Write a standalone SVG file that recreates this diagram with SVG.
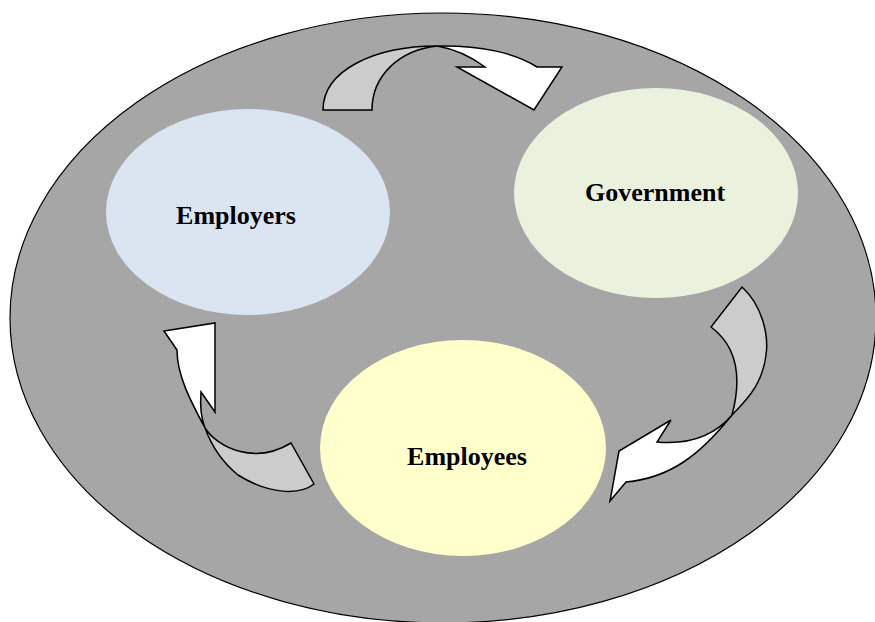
<svg xmlns="http://www.w3.org/2000/svg" width="875" height="622" viewBox="0 0 875 622">
<style>
.g{fill:#cccccc;stroke:#000;stroke-width:1.5;stroke-linejoin:miter}
.w{fill:#ffffff;stroke:#000;stroke-width:1.5;stroke-linejoin:miter}
</style>
<rect width="875" height="622" fill="#ffffff"/>
<ellipse id="frame" cx="443" cy="318" rx="433" ry="305" fill="#a6a6a6" stroke="#000" stroke-width="1.2"/>
<g id="connectors">
  <g id="arrow-top">
    <path class="g" d="M323,110 C323,70 375,46 437,46 C400,50 372,75 372,110 Z"/>
    <path class="w" d="M437,46 C480,45 515,53 537,67 L562,67 L534,110 L457,67 L485,67 C470,56 455,49 437,46 Z"/>
  </g>
  <g id="arrow-right">
    <path class="g" d="M742,287 C762,305 769,335 766,355 C763,380 752,395 732,415 C740,385 742,350 711,327 Z"/>
    <path class="w" d="M732,415 C700,455 670,478 626,482 L610,501 L619,451 L671,420 L657,442 C690,445 715,435 732,415 Z"/>
  </g>
  <g id="arrow-left">
    <path class="w" d="M164,331 L215,323 L215,412 L201,392 C200,405 201,418 205,428 C190,400 177,375 177,350 Z"/>
    <path class="g" d="M205,428 C218,448 255,465 291,443 L314,484 C300,495 270,495 238,475 C222,462 212,447 205,428 Z"/>
  </g>
</g>
<g id="employers" font-family="Liberation Serif, Times New Roman, DejaVu Serif, serif" font-weight="bold" font-size="26" text-anchor="middle">
  <ellipse cx="248" cy="212" rx="142" ry="103" fill="#dbe5f1"/>
  <text x="236" y="224">Employers</text>
</g>
<g id="government" font-family="Liberation Serif, Times New Roman, DejaVu Serif, serif" font-weight="bold" font-size="26" text-anchor="middle">
  <ellipse cx="656" cy="193" rx="142" ry="105" fill="#eaf1dd"/>
  <text x="655" y="201">Government</text>
</g>
<g id="employees" font-family="Liberation Serif, Times New Roman, DejaVu Serif, serif" font-weight="bold" font-size="26" text-anchor="middle">
  <ellipse cx="463" cy="448" rx="143" ry="108" fill="#ffffcc"/>
  <text x="467" y="465">Employees</text>
</g>
</svg>
